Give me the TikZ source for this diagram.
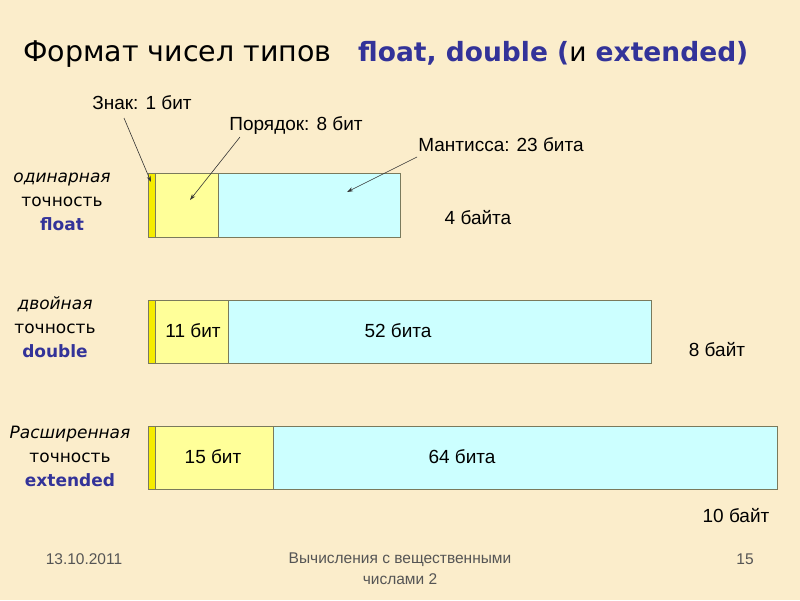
\documentclass[tikz,border=0pt]{standalone}
\usepackage{fontspec}
\setmainfont{Liberation Sans}
\newfontfamily\comic{DejaVu Sans}
\usetikzlibrary{arrows.meta}
\definecolor{bg}{HTML}{FBEDCB}
\definecolor{signc}{HTML}{F5EC00}
\definecolor{expc}{HTML}{FFFF99}
\definecolor{manc}{HTML}{CCFFFF}
\definecolor{edge}{HTML}{7A7A5C}
\definecolor{navy}{HTML}{333399}
\definecolor{foot}{HTML}{555555}
\tikzset{
  field/.style={draw=edge, line width=0.9pt, inner sep=0pt, outer sep=0pt},
  lbl/.style={font=\fontsize{19}{22}\selectfont, inner sep=0pt},
  side/.style={font=\comic\fontsize{17}{24}\selectfont, align=center, inner sep=0pt},
  pointer/.style={-{Stealth[length=6pt,width=4pt]}, line width=0.6pt, draw=black!80},
  footer/.style={font=\fontsize{15.5}{21}\selectfont, text=foot, inner sep=0pt}
}
\begin{document}
\begin{tikzpicture}[x=1pt,y=-1pt]
\fill[bg] (0,0) rectangle (800,600);
\useasboundingbox (0,0) rectangle (800,600);

% title
\node[anchor=base west, inner sep=0pt, font=\comic\fontsize{28.5}{32}\selectfont] (title) at (23,61)
  {Формат чисел типов};
\node[anchor=base west, inner sep=0pt, font=\comic\bfseries\fontsize{26.5}{32}\selectfont, text=navy] (titleb) at (358,61)
  {float, double (\textcolor{black}{\mdseries и} extended)};

% float bar
\node[field, fill=signc, minimum width=7pt, minimum height=64pt, anchor=north west] (fs) at (148,173) {};
\node[field, fill=expc, minimum width=63pt, minimum height=64pt, anchor=north west] (fe) at (155,173) {};
\node[field, fill=manc, minimum width=182pt, minimum height=64pt, anchor=north west] (fm) at (218,173) {};

% double bar
\node[field, fill=signc, minimum width=7pt, minimum height=63pt, anchor=north west] (ds) at (148,300) {};
\node[field, fill=expc, minimum width=73pt, minimum height=63pt, anchor=north west] (de) at (155,300) {};
\node[field, fill=manc, minimum width=423pt, minimum height=63pt, anchor=north west] (dm) at (228,300) {};

% extended bar
\node[field, fill=signc, minimum width=7pt, minimum height=63pt, anchor=north west] (es) at (148,426) {};
\node[field, fill=expc, minimum width=118pt, minimum height=63pt, anchor=north west] (ee) at (155,426) {};
\node[field, fill=manc, minimum width=504pt, minimum height=63pt, anchor=north west] (em) at (273,426) {};

% field labels
\node[lbl] (t11) at (193,331) {11 бит};
\node[lbl] (t52) at (398,331) {52 бита};
\node[lbl] (t15) at (213,457) {15 бит};
\node[lbl] (t64) at (462,457) {64 бита};

% size labels
\node[lbl] (s4) at (478,218) {4 байта};
\node[lbl] (s8) at (717,350) {8 байт};
\node[lbl] (s10) at (736,516) {10 байт};

% callouts
\node[lbl] (zn) at (142,103) {Знак: 1 бит};
\node[lbl] (por) at (296,126) {Порядок: 8 бит};
\node[lbl] (man) at (501,145) {Мантисса: 23 бита};
\coordinate (zn0) at (124,118);
\coordinate (por0) at (240,137);
\coordinate (man0) at (417,157);
\coordinate (zntip) at (151,182);
\coordinate (portip) at (190,200);
\coordinate (mantip) at (347,192);
\draw[pointer] (zn0) -- (zntip);
\draw[pointer] (por0) -- (portip);
\draw[pointer] (man0) -- (mantip);

% side labels
\node[side] (lf) at (62,202) {\textit{одинарная}\\точность\\\textcolor{navy}{\bfseries float}};
\node[side] (ld) at (55,327) {\textit{двойная}\\точность\\\textcolor{navy}{\bfseries double}};
\node[side] (le) at (70,456) {\textit{Расширенная}\\точность\\\textcolor{navy}{\bfseries extended}};

% footer
\node[footer] (fdate) at (84,559) {13.10.2011};
\node[footer, align=center] (ftitle) at (400,569) {Вычисления с вещественными\\числами 2};
\node[footer] (fnum) at (745,559) {15};
\end{tikzpicture}
\end{document}
